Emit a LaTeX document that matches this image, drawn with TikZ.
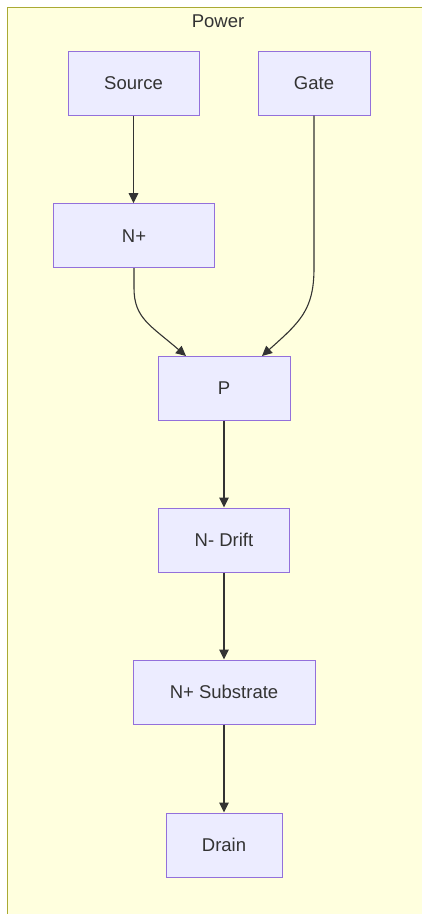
\documentclass[tikz,border=0pt]{standalone}
\usepackage{fontspec}
\setmainfont{Liberation Sans}
\usetikzlibrary{arrows.meta}
\definecolor{clfill}{HTML}{FFFFDE}
\definecolor{clline}{HTML}{AAAA33}
\definecolor{ndfill}{HTML}{ECECFF}
\definecolor{ndline}{HTML}{9370DB}
\definecolor{txt}{HTML}{333333}
\tikzset{
  box/.style={draw=ndline, fill=ndfill, line width=1pt, minimum height=64pt, inner sep=0pt,
    text=txt, font=\fontsize{18.5}{22}\selectfont},
  conn/.style={draw=txt, line width=1.1pt, -{Triangle[length=10pt,width=9.5pt]}},
}
\begin{document}
\begin{tikzpicture}[x=1pt,y=-1pt]
\clip (0,0) rectangle (422,914);
\useasboundingbox (0,0) rectangle (422,914);
\fill[clfill] (7,7) rectangle (440,930);
\draw[clline, line width=1pt] (7,930) -- (7,7) -- (440,7);
\node[text=txt, font=\fontsize{18.5}{22}\selectfont] (title) at (218,21) {Power};
\node[box, minimum width=131pt] (src) at (133.5,83) {Source};
\node[box, minimum width=112pt] (gate) at (314,83) {Gate};
\node[box, minimum width=161pt] (np) at (134,235.7) {N+};
\node[box, minimum width=132pt] (p) at (224,388) {P};
\node[box, minimum width=131pt] (drift) at (224,540) {N- Drift};
\node[box, minimum width=182pt] (sub) at (224,692) {N+ Substrate};
\node[box, minimum width=116pt] (drain) at (224,845) {Drain};
\draw[conn] (src.south) -- (src.south |- np.north);
\draw[conn] (np.south) -- (134,288) .. controls (134,318) and (150,325) .. (186,356);
\draw[conn] (gate.south) -- (314,268) .. controls (314,310) and (300,322) .. (262,356);
\draw[conn] (p.south) -- (drift.north);
\draw[conn] (drift.south) -- (sub.north);
\draw[conn] (sub.south) -- (drain.north);
\end{tikzpicture}
\end{document}
